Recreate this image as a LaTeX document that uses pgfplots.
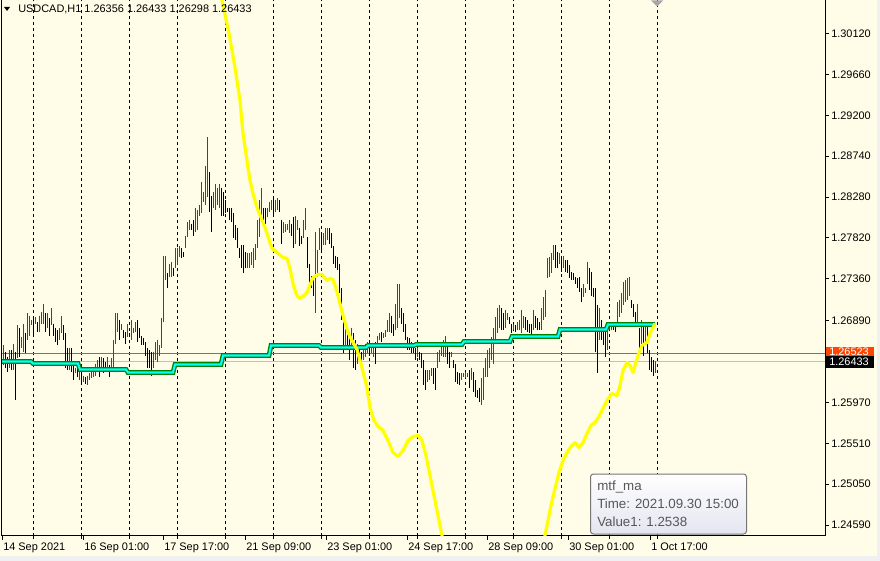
\documentclass[border=0pt]{standalone}
\usepackage{fontspec}
\setmainfont{Liberation Sans}
\usepackage{pgfplots}
\usepackage{pgfplotstable}
\pgfplotsset{compat=1.18}
\definecolor{cream}{RGB}{255,253,232}
\definecolor{stripgrey}{RGB}{240,240,240}
\definecolor{barup}{RGB}{47,79,79}
\definecolor{bardn}{RGB}{0,0,0}
\definecolor{maY}{RGB}{255,255,0}
\definecolor{maG}{RGB}{0,128,0}
\definecolor{maC}{RGB}{0,255,255}
\definecolor{bidline}{RGB}{255,69,0}
\definecolor{lastline}{RGB}{192,192,192}
\definecolor{tipborder}{RGB}{118,118,118}
\definecolor{tiptext}{RGB}{87,87,87}
\definecolor{tipbot}{RGB}{228,229,240}

\pgfplotstableread{
x hi lo
3 1.26610 1.26385
9 1.26554 1.26362
13 1.26632 1.26329
17 1.26835 1.26464
21 1.26700 1.26576
23 1.26857 1.26531
27 1.26970 1.26666
29 1.26947 1.26722
31 1.26891 1.26835
35 1.26925 1.26857
39 1.26947 1.26756
41 1.26981 1.26857
43 1.27082 1.26857
47 1.26970 1.26812
51 1.27026 1.26835
59 1.26801 1.26666
61 1.26947 1.26745
69 1.26587 1.26329
75 1.26362 1.26295
79 1.26385 1.26216
83 1.26272 1.26194
87 1.26272 1.26160
89 1.26295 1.26216
91 1.26351 1.26239
93 1.26362 1.26250
95 1.26407 1.26272
97 1.26441 1.26306
101 1.26475 1.26329
107 1.26475 1.26306
111 1.26464 1.26306
113 1.26666 1.26306
115 1.26970 1.26632
117 1.26970 1.26756
121 1.26857 1.26779
127 1.26857 1.26700
131 1.26891 1.26666
133 1.26812 1.26745
135 1.26869 1.26756
153 1.26531 1.26362
155 1.26644 1.26441
157 1.26666 1.26419
159 1.26610 1.26497
161 1.26914 1.26587
163 1.27611 1.26869
165 1.27622 1.27341
169 1.27532 1.27375
171 1.27544 1.27375
175 1.27701 1.27487
177 1.27712 1.27510
179 1.27724 1.27600
185 1.27847 1.27701
187 1.27994 1.27825
189 1.28016 1.27904
195 1.28151 1.27881
197 1.28129 1.27904
199 1.28185 1.28072
201 1.28444 1.28095
203 1.28331 1.28219
205 1.28624 1.28185
207 1.28950 1.28275
213 1.28331 1.28162
215 1.28432 1.28129
217 1.28387 1.28185
219 1.28432 1.28151
247 1.27645 1.27487
249 1.27645 1.27487
251 1.27656 1.27510
253 1.27701 1.27476
255 1.27757 1.27566
257 1.28016 1.27712
259 1.28241 1.27825
261 1.28387 1.28050
267 1.28162 1.28050
269 1.28219 1.28106
271 1.28241 1.28129
275 1.28241 1.28106
277 1.28264 1.28129
283 1.27994 1.27870
285 1.27982 1.27881
287 1.27982 1.27904
289 1.28016 1.27870
295 1.28072 1.27757
297 1.28016 1.27904
303 1.28016 1.27814
305 1.28151 1.27904
315 1.27881 1.26970
317 1.27679 1.27375
319 1.27926 1.27679
323 1.27870 1.27735
325 1.27937 1.27735
327 1.27937 1.27791
345 1.26835 1.26587
351 1.26812 1.26554
357 1.26632 1.26407
363 1.26587 1.26441
365 1.26632 1.26475
367 1.26644 1.26520
371 1.26576 1.26520
373 1.26632 1.26475
377 1.26722 1.26587
379 1.26745 1.26666
383 1.26745 1.26689
385 1.26779 1.26700
387 1.26891 1.26756
389 1.26970 1.26756
395 1.27082 1.26779
397 1.27307 1.26812
399 1.27307 1.26914
417 1.26576 1.26475
427 1.26329 1.26194
429 1.26329 1.26216
431 1.26351 1.26272
437 1.26531 1.26362
439 1.26554 1.26419
441 1.26644 1.26497
443 1.26666 1.26475
445 1.26722 1.26475
451 1.26531 1.26475
461 1.26295 1.26216
463 1.26295 1.26250
465 1.26306 1.26239
467 1.26295 1.26250
471 1.26351 1.26216
481 1.26239 1.25935
483 1.26362 1.25991
485 1.26464 1.26250
487 1.26554 1.26250
489 1.26587 1.26362
491 1.26700 1.26441
493 1.26801 1.26407
495 1.26925 1.26666
497 1.27037 1.26745
499 1.27060 1.26812
505 1.27004 1.26812
507 1.26970 1.26891
513 1.26857 1.26779
517 1.26869 1.26779
519 1.26891 1.26779
521 1.27004 1.26745
523 1.26947 1.26812
533 1.27004 1.26779
541 1.27026 1.26779
543 1.27150 1.26891
545 1.27229 1.26925
547 1.27589 1.27364
549 1.27600 1.27375
551 1.27645 1.27420
553 1.27735 1.27566
559 1.27645 1.27532
563 1.27622 1.27476
583 1.27307 1.27150
585 1.27262 1.27195
587 1.27544 1.27307
599 1.27037 1.26666
607 1.26857 1.26554
609 1.26857 1.26779
611 1.26869 1.26779
617 1.27094 1.26857
619 1.27116 1.26925
621 1.27195 1.26970
623 1.27319 1.27060
625 1.27341 1.27094
627 1.27364 1.27116
629 1.27375 1.27172
637 1.27082 1.26835
641 1.26891 1.26632
645 1.26857 1.26610
655 1.26433 1.26298
}\upbars

\pgfplotstableread{
x hi lo
5 1.26531 1.26351
7 1.26475 1.26306
11 1.26554 1.26329
15 1.26531 1.25991
19 1.26801 1.26475
25 1.26745 1.26520
33 1.26925 1.26722
37 1.26869 1.26756
45 1.26970 1.26756
49 1.26914 1.26722
53 1.26857 1.26722
55 1.26812 1.26644
57 1.26779 1.26610
63 1.26835 1.26666
65 1.26745 1.26351
67 1.26587 1.26329
71 1.26576 1.26306
73 1.26419 1.26216
77 1.26351 1.26250
81 1.26295 1.26160
85 1.26250 1.26182
99 1.26475 1.26250
103 1.26464 1.26295
105 1.26419 1.26329
109 1.26385 1.26250
119 1.26891 1.26666
123 1.26779 1.26689
125 1.26756 1.26632
129 1.26745 1.26700
137 1.26891 1.26644
139 1.26801 1.26689
141 1.26722 1.26610
143 1.26689 1.26610
145 1.26644 1.26497
147 1.26576 1.26351
149 1.26554 1.26362
151 1.26531 1.26272
167 1.27420 1.27251
173 1.27487 1.27397
181 1.27701 1.27589
183 1.27656 1.27600
191 1.27982 1.27904
193 1.28016 1.27847
209 1.28556 1.28106
211 1.28297 1.27881
221 1.28387 1.28072
223 1.28331 1.28072
225 1.28241 1.28095
227 1.28162 1.28106
229 1.28151 1.28016
231 1.28151 1.27994
233 1.28095 1.27814
235 1.27960 1.27791
237 1.27937 1.27701
239 1.27712 1.27589
241 1.27735 1.27476
243 1.27735 1.27420
245 1.27656 1.27476
263 1.28162 1.28016
265 1.28162 1.27982
273 1.28264 1.28050
279 1.28241 1.28106
281 1.28016 1.27757
291 1.27982 1.27847
293 1.28050 1.27701
299 1.27937 1.27724
301 1.27847 1.27757
307 1.27825 1.27487
309 1.27532 1.27262
311 1.27397 1.27251
313 1.27375 1.27172
321 1.27870 1.27645
329 1.27937 1.27757
331 1.27870 1.27712
333 1.27724 1.27532
335 1.27622 1.27487
337 1.27600 1.27454
339 1.27532 1.27195
341 1.27251 1.26891
343 1.26891 1.26520
347 1.26801 1.26576
349 1.26756 1.26441
353 1.26745 1.26351
355 1.26666 1.26329
359 1.26587 1.26441
361 1.26531 1.26419
369 1.26587 1.26497
375 1.26644 1.26407
381 1.26756 1.26644
391 1.26947 1.26745
393 1.26857 1.26722
401 1.27037 1.26857
403 1.26970 1.26756
405 1.26857 1.26666
407 1.26700 1.26554
409 1.26689 1.26554
411 1.26644 1.26520
413 1.26610 1.26520
415 1.26576 1.26441
419 1.26531 1.26441
421 1.26520 1.26351
423 1.26441 1.26160
425 1.26329 1.26104
433 1.26351 1.26182
435 1.26362 1.26104
447 1.26644 1.26407
449 1.26531 1.26362
453 1.26441 1.26362
455 1.26407 1.26194
457 1.26306 1.26182
459 1.26295 1.26160
469 1.26329 1.26126
473 1.26306 1.26081
475 1.26216 1.26025
477 1.26104 1.26014
479 1.26137 1.25969
501 1.27026 1.26779
503 1.26970 1.26779
509 1.26925 1.26857
511 1.26857 1.26745
515 1.26835 1.26756
525 1.26925 1.26779
527 1.26891 1.26756
529 1.26857 1.26745
531 1.26857 1.26700
535 1.26947 1.26812
537 1.26914 1.26779
539 1.26869 1.26779
555 1.27735 1.27487
557 1.27656 1.27476
561 1.27622 1.27431
565 1.27566 1.27431
567 1.27566 1.27420
569 1.27510 1.27364
571 1.27431 1.27341
573 1.27420 1.27341
575 1.27375 1.27307
577 1.27364 1.27262
579 1.27375 1.27206
581 1.27251 1.27094
589 1.27476 1.27229
591 1.27431 1.27172
593 1.27262 1.27150
595 1.27251 1.26531
597 1.27060 1.26295
601 1.26891 1.26666
603 1.26812 1.26610
605 1.26779 1.26475
613 1.26857 1.26779
615 1.26835 1.26756
631 1.27116 1.27026
633 1.27082 1.26925
635 1.26981 1.26869
639 1.26812 1.26576
643 1.26835 1.26497
647 1.26835 1.26520
649 1.26554 1.26329
651 1.26475 1.26306
653 1.26441 1.26272
}\dnbars

\pgfplotstableread{
x y
220 1.30604
222 1.30491
229 1.30120
235 1.29737
240 1.29366
243 1.28995
248 1.28612
250 1.28466
253 1.28320
257 1.28162
261 1.28050
265 1.27937
272 1.27701
277 1.27656
283 1.27600
287 1.27589
290 1.27476
293 1.27307
296 1.27195
299 1.27139
303 1.27161
307 1.27206
313 1.27375
318 1.27409
322 1.27409
327 1.27341
330 1.27364
333 1.27352
336 1.27251
338 1.27172
343 1.26947
348 1.26756
352 1.26666
357 1.26565
362 1.26362
367 1.26137
370 1.25912
374 1.25766
378 1.25699
383 1.25654
388 1.25541
393 1.25406
398 1.25361
403 1.25429
408 1.25541
413 1.25586
418 1.25597
422 1.25541
426 1.25372
430 1.25147
435 1.24866
440 1.24585
444 1.24360
}\maleft

\pgfplotstableread{
x y
543 1.24360
547 1.24585
551 1.24810
555 1.25001
559 1.25181
563 1.25316
567 1.25406
571 1.25474
575 1.25518
579 1.25462
583 1.25518
587 1.25620
591 1.25710
595 1.25744
599 1.25811
603 1.25901
607 1.25991
612 1.26070
617 1.26047
620 1.26160
623 1.26329
627 1.26419
630 1.26385
633 1.26306
638 1.26497
642 1.26610
647 1.26644
650 1.26745
655 1.26857
}\maright

\pgfplotstableread{
x y
0 1.26430
31 1.26430
33 1.26407
78 1.26407
80 1.26340
126 1.26340
128 1.26306
173 1.26306
175 1.26396
221 1.26396
223 1.26497
269 1.26497
271 1.26610
319 1.26610
321 1.26587
366 1.26587
368 1.26610
414 1.26610
416 1.26621
462 1.26621
464 1.26655
510 1.26655
512 1.26711
558 1.26711
560 1.26790
606 1.26790
608 1.26846
655 1.26846
}\steps

\begin{document}
\begin{tikzpicture}
\begin{scope}[x=0.75pt,y=-0.75pt]
\useasboundingbox (0,0) rectangle (880,560);
\fill[cream] (0,0) rectangle (880,560);
\fill[stripgrey] (0,555) rectangle (880,560);
\fill[stripgrey] (877,0) rectangle (880,560);
\end{scope}
\begin{axis}[
  at={(1.125pt,0pt)}, anchor=north west,
  scale only axis, width=617.625pt, height=401.25pt,
  xmin=1.5, xmax=825, ymin=1.244722, ymax=1.30491,
  axis x line*=bottom, axis y line*=right,
  axis line style={-, black, line width=0.75pt},
  tick align=outside,
  major tick length=3pt, minor tick length=2.25pt,
  every tick/.style={black, line width=0.75pt},
  xtick={2,83,163,245,326,407,487,568,650},
  xticklabels={14 Sep 2021,16 Sep 01:00,17 Sep 17:00,21 Sep 09:00,23 Sep 01:00,24 Sep 17:00,28 Sep 09:00,30 Sep 01:00,1 Oct 17:00},
  minor xtick={33,81,129,177,225,273,321,369,417,465,513,561,609,657},
  xminorgrids=true, xmajorgrids=false, ymajorgrids=false,
  minor grid style={black, line width=0.75pt, dash pattern=on 2.25pt off 2.25pt},
  ytick={1.24590,1.25050,1.25510,1.25970,1.26890,1.27360,1.27820,1.28280,1.28740,1.29200,1.29660,1.30120},
  yticklabels={1.24590,1.25050,1.25510,1.25970,1.26890,1.27360,1.27820,1.28280,1.28740,1.29200,1.29660,1.30120},
  xticklabel style={anchor=north west, inner sep=0pt, font=\fontsize{8.2}{9.6}\selectfont, xshift=0.75pt, yshift=-2.5pt},
  yticklabel style={anchor=west, inner sep=0pt, font=\fontsize{8.2}{9.6}\selectfont, xshift=1.5pt},
  /pgf/number format/assume math mode=true,
  clip mode=individual,
]
\addplot[bidline, line width=0.75pt, forget plot] coordinates {(1.5,1.26523) (825,1.26523)};
\addplot[lastline, line width=0.75pt, forget plot] coordinates {(1.5,1.26433) (825,1.26433)};
\addplot[draw=none, mark=none, forget plot, error bars/.cd, y dir=minus, y explicit, error mark=none, error bar style={line width=0.75pt, draw=barup, solid}] table[x=x, y=hi, y error minus expr=\thisrow{hi}-\thisrow{lo}] {\upbars};
\addplot[draw=none, mark=none, forget plot, error bars/.cd, y dir=minus, y explicit, error mark=none, error bar style={line width=0.75pt, draw=bardn, solid}] table[x=x, y=hi, y error minus expr=\thisrow{hi}-\thisrow{lo}] {\dnbars};
\addplot[maG, line width=3.6pt, forget plot] table[x=x,y=y] {\steps};
\addplot[maC, line width=1.6pt, forget plot] table[x=x,y=y] {\steps};
\addplot[maY, line width=2.4pt, line join=round, forget plot] table[x=x,y=y] {\maleft};
\addplot[maY, line width=2.4pt, line join=round, forget plot] table[x=x,y=y] {\maright};
\end{axis}
\begin{scope}[x=0.75pt,y=-0.75pt]
\draw[black, line width=0.75pt] (1.5,0) -- (1.5,535.5);
% title
\fill[black] (4,6.5) -- (10,6.5) -- (7,10.5) -- cycle;
\node[anchor=west, inner sep=0pt, font=\fontsize{8.2}{9.6}\selectfont] at (18,9) {USDCAD,H1 1.26356 1.26433 1.26298 1.26433};
% chart shift marker
\fill[gray!70] (651,0) -- (663,0) -- (657,6) -- cycle;
% price labels
\fill[bidline] (826,346.5) rectangle (874,356);
\node[anchor=west, inner sep=0pt, text=white, font=\fontsize{8.2}{9.6}\selectfont] at (829,351.5) {1.26523};
\fill[black] (826,355.5) rectangle (874,367);
\node[anchor=west, inner sep=0pt, text=white, font=\fontsize{8.2}{9.6}\selectfont] at (829,361.5) {1.26433};
% tooltip
\shadedraw[top color=white, bottom color=tipbot, draw=tipborder, line width=0.75pt, rounded corners=2.25pt] (590.5,473.5) rectangle (746.5,533.5);
\node[anchor=west, inner sep=0pt, text=tiptext, font=\fontsize{10}{12}\selectfont] at (597,486) {mtf\_ma};
\node[anchor=west, inner sep=0pt, text=tiptext, font=\fontsize{10}{12}\selectfont] at (597,503.5) {Time: 2021.09.30 15:00};
\node[anchor=west, inner sep=0pt, text=tiptext, font=\fontsize{10}{12}\selectfont] at (597,521) {Value1: 1.2538};
\end{scope}
\end{tikzpicture}
\end{document}
